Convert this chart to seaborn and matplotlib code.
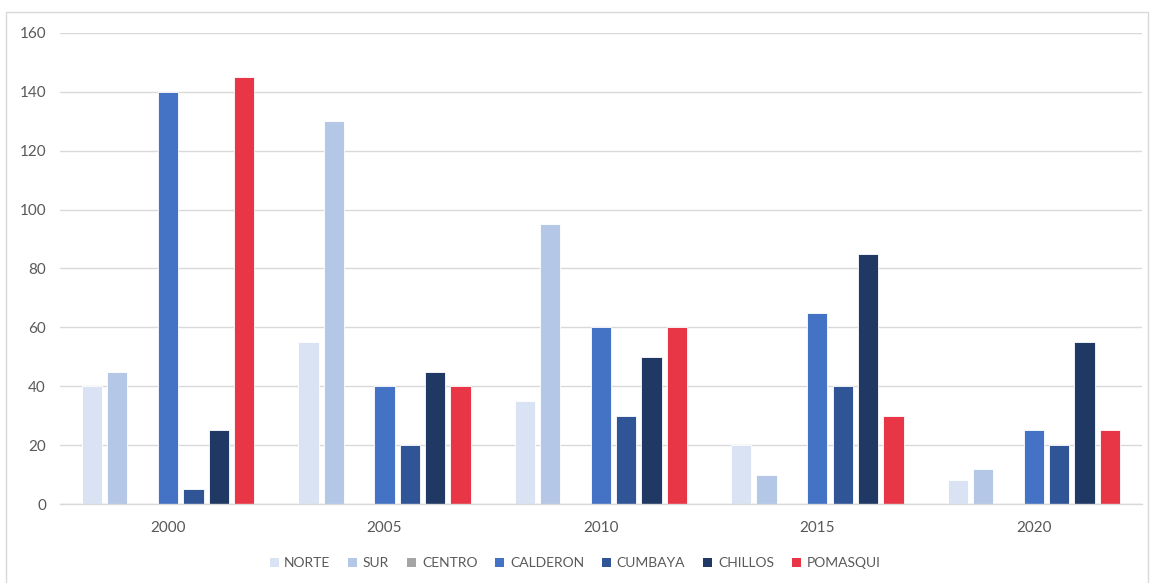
import pandas as pd
import matplotlib
matplotlib.use("Agg")
import matplotlib.pyplot as plt
from matplotlib.patches import Rectangle, Patch
import seaborn as sns

# --------------------------------------------------
# Data
# --------------------------------------------------
years = ["2000", "2005", "2010", "2015", "2020"]
zones = ["NORTE", "SUR", "CENTRO", "CALDERON", "CUMBAYA", "CHILLOS", "POMASQUI"]

norte = [40, 55, 35, 20, 8]
sur = [45, 130, 95, 10, 12]
centro = [0, 0, 0, 0, 0]
calderon = [140, 40, 60, 65, 25]
cumbaya = [5, 20, 30, 40, 20]
chillos = [25, 45, 50, 85, 55]
pomasqui = [145, 40, 60, 30, 25]

colors = ["#DAE3F3", "#B4C7E7", "#A5A5A5", "#4472C4", "#2F5597", "#203864", "#E83646"]

series = [norte, sur, centro, calderon, cumbaya, chillos, pomasqui]
rows = []
for zone, vals in zip(zones, series):
    for y, v in zip(years, vals):
        rows.append({"year": y, "zone": zone, "value": v})
df = pd.DataFrame(rows)

# --------------------------------------------------
# Plot
# --------------------------------------------------
sns.set_theme(style="white")
plt.rcParams["font.family"] = ["Lato", "DejaVu Sans"]

fig = plt.figure(figsize=(11.5, 5.83), dpi=100)
ax = fig.add_axes([0.052, 0.1355, 0.941, 0.808])

sns.barplot(data=df, x="year", y="value", hue="zone", hue_order=zones,
            palette=colors, width=0.82, gap=0.2, saturation=1,
            edgecolor="white", linewidth=0.6, legend=False, ax=ax)

ax.set_ylim(0, 160)
ax.set_yticks(range(0, 161, 20))
ax.set_xlim(-0.5, len(years) - 0.5)
ax.grid(axis="y", color="#D9D9D9", linewidth=1)
ax.set_axisbelow(True)
for s in ["left", "right", "top"]:
    ax.spines[s].set_visible(False)
ax.spines["bottom"].set_color("#D9D9D9")
ax.spines["bottom"].set_linewidth(1)
ax.tick_params(axis="both", length=0, labelsize=11, colors="#595959")
ax.tick_params(axis="y", pad=10)
ax.tick_params(axis="x", pad=12)
ax.set_xlabel("")
ax.set_ylabel("")

handles = [Patch(facecolor=c, edgecolor="none") for c in colors]
fig.legend(handles, zones, loc="center", bbox_to_anchor=(0.5, 0.034), ncol=7,
           frameon=False, fontsize=10, labelcolor="#595959",
           handlelength=0.65, handleheight=0.65, handletextpad=0.4, columnspacing=1.3)

# chart border
fig.add_artist(Rectangle((6 / 1150, -0.01), 1142 / 1150, 1 - 12 / 583 + 0.01,
                         transform=fig.transFigure, fill=False,
                         edgecolor="#D9D9D9", linewidth=1))

fig.savefig("out.png", dpi=100)
plt.close(fig)
